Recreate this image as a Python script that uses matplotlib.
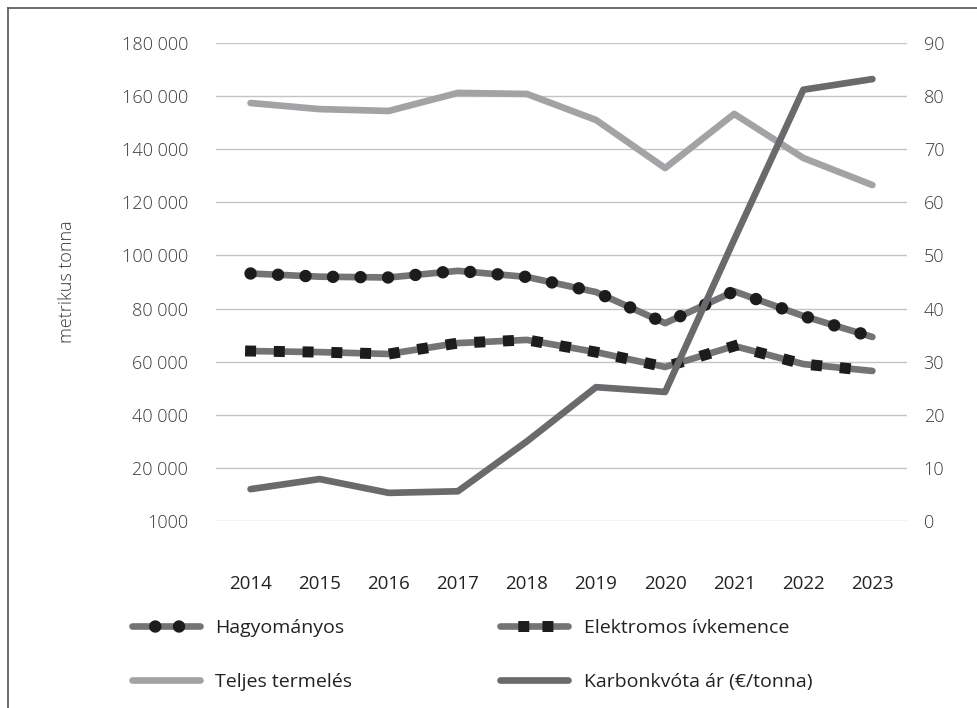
import matplotlib.pyplot as plt
from matplotlib.lines import Line2D

plt.rcParams['font.family'] = ['Open Sans', 'DejaVu Sans']

# Adatok (leolvasva az ábráról)
years = ['2014', '2015', '2016', '2017', '2018', '2019', '2020', '2021', '2022', '2023']
hagyomanyos = [93200, 92000, 91700, 94200, 91900, 86200, 74500, 86500, 77200, 69300]
elektromos = [64000, 63600, 62900, 67000, 68200, 63600, 58000, 65900, 59100, 56500]
teljes = [157400, 155100, 154400, 161200, 160800, 151000, 132900, 153300, 136700, 126500]
karbon = [6.0, 7.9, 5.3, 5.6, 15.0, 25.2, 24.3, 53.0, 81.2, 83.2]

left_ticks = [0, 20000, 40000, 60000, 80000, 100000, 120000, 140000, 160000, 180000]
left_labels = ['1000', '20 000', '40 000', '60 000', '80 000', '100 000',
               '120 000', '140 000', '160 000', '180 000']
right_ticks = [0, 10, 20, 30, 40, 50, 60, 70, 80, 90]

# Színek
c_line = '#747476'
c_light = '#a3a3a6'
c_dark = '#6a6a6c'
c_marker = '#1c1c1c'

LW = 4.8
DOT_LW = 9.0      # kör jelölők átmérője (pt)
SQ_LW = 7.9       # négyzet jelölők oldala (pt)
dots = (0, (0.001, 2.2))
squares = (0, (0.001, 2.62))

fig = plt.figure(figsize=(9.77, 7.08), dpi=100)
ax = fig.add_axes([0.2211, 0.2641, 0.7072, 0.6752])
ax2 = ax.twinx()

x = list(range(len(years)))

ax.plot(x, teljes, color=c_light, lw=LW, solid_capstyle='round')
ax.plot(x, hagyomanyos, color=c_line, lw=LW, solid_capstyle='round')
ax.plot(x, hagyomanyos, color=c_marker, lw=DOT_LW, linestyle=dots, dash_capstyle='round')
ax.plot(x, elektromos, color=c_line, lw=LW, solid_capstyle='round')
ax.plot(x, elektromos, color=c_marker, lw=SQ_LW, linestyle=squares, dash_capstyle='projecting')
ax2.plot(x, karbon, color=c_dark, lw=LW, solid_capstyle='round')

ax.set_xlim(-0.5, len(years) - 0.5)
ax.set_ylim(0, 180000)
ax2.set_ylim(0, 90)

ax.set_xticks(x)
ax.set_xticklabels(years, fontsize=13.5, color='#222222')
ax.set_yticks(left_ticks)
ax.set_yticklabels(left_labels, fontsize=13, color='#3a3a3a', fontweight='light')
ax2.set_yticks(right_ticks)
ax2.set_yticklabels([str(v) for v in right_ticks], fontsize=13, color='#3a3a3a', fontweight='light')

ax.tick_params(axis='both', length=0)
ax.tick_params(axis='y', pad=20)
ax.tick_params(axis='x', pad=39)
ax2.tick_params(axis='y', length=0, pad=12)

ax.grid(axis='y', color='#c4c4c4', lw=1)
ax.grid(axis='x', visible=False)
ax.set_axisbelow(True)
for a in (ax, ax2):
    for s in a.spines.values():
        s.set_visible(False)

ax.set_ylabel('metrikus tonna', fontsize=13, color='#3a3a3a', fontweight='light', labelpad=33)

# Jelmagyarázat
h1 = (Line2D([], [], color=c_line, lw=LW, solid_capstyle='round'),
      Line2D([], [], color=c_marker, lw=DOT_LW, linestyle=(0.08, (0.001, 1.9)), dash_capstyle='round'))
h2 = Line2D([], [], color=c_light, lw=LW, solid_capstyle='round')
h3 = (Line2D([], [], color=c_line, lw=LW, solid_capstyle='round'),
      Line2D([], [], color=c_marker, lw=SQ_LW, linestyle=(0.08, (0.001, 2.2)), dash_capstyle='projecting'))
h4 = Line2D([], [], color=c_dark, lw=LW, solid_capstyle='round')
leg = fig.legend([h1, h2, h3, h4],
                 ['Hagyományos', 'Teljes termelés', 'Elektromos ívkemence', 'Karbonkvóta ár (€/tonna)'],
                 ncol=2, loc='upper left', bbox_to_anchor=(0.117, 0.15), frameon=False,
                 fontsize=14, handlelength=3.5, handletextpad=0.8,
                 columnspacing=7.6, labelspacing=1.85)
for t in leg.get_texts():
    t.set_color('#222222')

# Keret
fig.add_artist(Line2D([8 / 977, 8 / 977], [0, 1 - 8 / 708], color='#555555', lw=1.2))
fig.add_artist(Line2D([8 / 977, 1], [1 - 8 / 708, 1 - 8 / 708], color='#555555', lw=1.2))

plt.savefig('out.png', dpi=100)
